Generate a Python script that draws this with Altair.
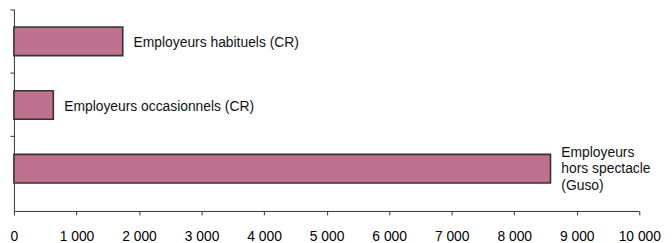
import altair as alt
import pandas as pd

keys = ["habituels", "occasionnels", "guso"]
labels = [
    "Employeurs habituels (CR)",
    "Employeurs occasionnels (CR)",
    "Employeurs\nhors spectacle\n(Guso)",
]
values = [1740, 630, 8580]
x_ticks = [0, 1000, 2000, 3000, 4000, 5000, 6000, 7000, 8000, 9000, 10000]

df = pd.DataFrame({"key": keys, "value": values, "label": labels})

FONT = "Liberation Sans"
AXC = "#333333"

y = alt.Y(
    "key:N",
    sort=keys,
    scale=alt.Scale(paddingInner=0, paddingOuter=0.0814, align=0),
    axis=alt.Axis(
        labels=False, title=None, ticks=True, tickSize=4, bandPosition=0,
        domainColor=AXC, tickColor=AXC, grid=False,
    ),
)
x = alt.X(
    "value:Q",
    scale=alt.Scale(domain=[0, 10000], nice=False),
    axis=alt.Axis(
        values=x_ticks,
        labelExpr="replace(format(datum.value, ','), ',', ' ')",
        title=None, grid=False, tickSize=4, labelPadding=15,
        labelFontSize=14, labelFont=FONT, labelColor="#000000",
        labelFlush=False, labelOverlap=False, labelBound=False,
        domainColor=AXC, tickColor=AXC,
    ),
)

base = alt.Chart(df).encode(x=x, y=y)

bars = base.mark_bar(size=29, color="#BF7190", stroke="#333333", strokeWidth=1.6)
text_single = base.transform_filter(alt.datum.key != "guso").mark_text(
    align="left", baseline="middle", dx=11, dy=2, fontSize=14, font=FONT,
    color="#111111",
).encode(text="label:N")
text_multi = base.transform_filter(alt.datum.key == "guso").mark_text(
    align="left", baseline="middle", dx=11, dy=-16, fontSize=14, font=FONT,
    lineBreak="\n", lineHeight=16.7, color="#111111",
).encode(text="label:N")

chart = (
    alt.layer(bars, text_single, text_multi)
    .properties(
        width=633, height=204,
        autosize=alt.AutoSizeParams(type="none"),
        padding={"left": 6, "top": 0, "right": 25, "bottom": 31},
        background="white",
    )
    .configure_view(stroke=None)
)

chart.save("out.html", embed_options={"renderer": "svg", "actions": False})
